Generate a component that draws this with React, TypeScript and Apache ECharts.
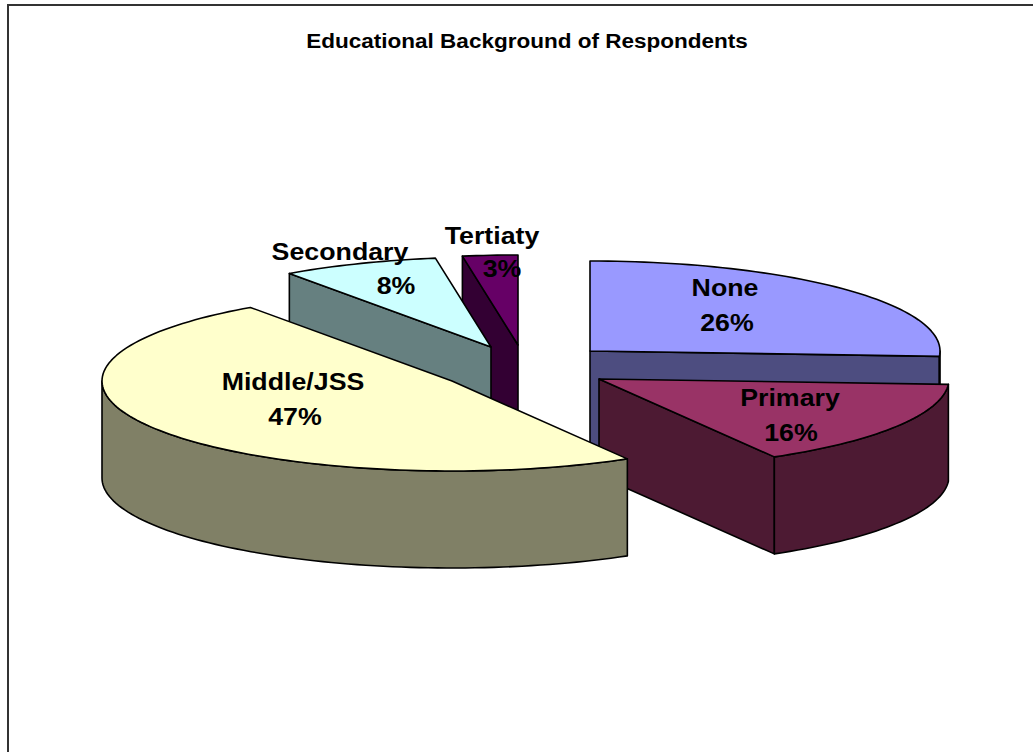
import React, { useEffect, useRef } from "react";
import * as echarts from "echarts";

const titleText = "Educational Background of Respondents";
const categories = ["None", "Primary", "Middle/JSS", "Secondary", "Tertiaty"];
const shares = [26, 16, 47, 8, 3];

const topColors = ["#9999ff", "#993366", "#ffffcc", "#ccffff", "#660066"];
const sideColors = ["#4d4d80", "#4d1a33", "#808066", "#668080", "#330033"];
// exploded slice centres, in pixels
const centres = [[590, 351], [599, 379], [452, 381], [491, 347], [518, 345]];
const nameAt = [[725, 288], [790, 398], [293, 382], [340, 252], [492, 236]];
const shareAt = [[727, 323], [791, 433], [295, 417], [396, 286], [502, 269]];
const paintOrder = [4, 3, 0, 1, 2];
const RX = 350, RY = 90, DEPTH = 97;
const TEXT_STRETCH = 1.115;

const total = shares.reduce((a, b) => a + b, 0);
const starts: number[] = [];
shares.reduce((acc, v, i) => { starts[i] = acc; return acc + (v / total) * 360; }, 0);

const rad = (d: number) => (d * Math.PI) / 180;
// the perspective of the 3D view pulls the apparent angle of a slice edge away from its true angle
const warp = (t: number) => {
  if (t > 270 && t < 360) return t + 4.5 * Math.sin(rad(2 * (t - 270)));
  if (t > 90 && t < 180) return t - 1.5 * Math.sin(rad(2 * (t - 90)));
  return t;
};
const pt = (c: number[], t: number, dy = 0) => {
  const w = warp(t);
  return [c[0] + RX * Math.sin(rad(w)), c[1] - RY * Math.cos(rad(w)) + dy];
};
const arc = (c: number[], a: number, b: number, dy = 0) => {
  const out: number[][] = [];
  const n = Math.max(2, Math.ceil(Math.abs(b - a) / 1.5));
  for (let i = 0; i <= n; i++) out.push(pt(c, a + ((b - a) * i) / n, dy));
  return out;
};

export default function App() {
  const ref = useRef<HTMLDivElement>(null);
  useEffect(() => {
    document.body.style.margin = "0";
    document.body.style.background = "#fff";
    const chart = echarts.init(ref.current!, undefined, { renderer: "svg" });
    const border = { stroke: "#000", lineWidth: 1.6, lineJoin: "round" };
    const poly = (points: number[][], fill: string) => ({
      type: "polygon", shape: { points }, style: { fill, ...border },
    });
    const label = (text: string, at: number[]) => ({
      type: "text", x: at[0], y: at[1], scaleX: TEXT_STRETCH,
      style: {
        text, x: 0, y: 0, align: "center", verticalAlign: "middle",
        fontFamily: "Liberation Sans", fontWeight: "bold", fontSize: 24, fill: "#000",
      },
    });
    chart.setOption({
      animation: false,
      backgroundColor: "#ffffff",
      graphic: [
        { type: "polyline", silent: true, shape: { points: [[8, 752], [8, 5], [1033, 5]] }, style: { fill: "none", stroke: "#333", lineWidth: 2 } },
        {
          type: "text", silent: true, x: 527, y: 41, scaleX: 1.126,
          style: {
            text: titleText, x: 0, y: 0, align: "center", verticalAlign: "middle",
            fontFamily: "Liberation Sans", fontWeight: "bold", fontSize: 20, fill: "#000",
          },
        },
      ],
      series: [{
        type: "custom",
        coordinateSystem: "none",
        data: paintOrder.map((i) => ({ value: [i, shares[i]], name: categories[i] })),
        renderItem: (params: any, api: any) => {
          const i = api.value(0) as number;
          const v = api.value(1) as number;
          const t0 = starts[i], t1 = t0 + (v / total) * 360;
          const c = centres[i];
          const kids: any[] = [];
          const cut = (t: number) => poly([c, pt(c, t), pt(c, t, DEPTH), [c[0], c[1] + DEPTH]], sideColors[i]);
          if (Math.sin(rad(t0)) < -1e-6) kids.push(cut(t0));
          if (Math.sin(rad(t1)) > 1e-6) kids.push(cut(t1));
          const a = Math.max(t0, 90), b = Math.min(t1, 270);
          if (b > a) kids.push(poly([...arc(c, a, b), ...arc(c, b, a, DEPTH)], sideColors[i]));
          kids.push(poly([c, ...arc(c, t0, t1)], topColors[i]));
          return { type: "group", children: kids };
        },
      }, {
        type: "custom",
        coordinateSystem: "none",
        z: 5,
        data: categories.map((n, i) => ({ value: [i, shares[i]], name: n })),
        renderItem: (params: any, api: any) => {
          const i = api.value(0) as number;
          return {
            type: "group",
            children: [label(categories[i], nameAt[i]), label(`${api.value(1)}%`, shareAt[i])],
          };
        },
      }],
    });
    return () => chart.dispose();
  }, []);
  return <div ref={ref} style={{ width: 1033, height: 752 }} />;
}
